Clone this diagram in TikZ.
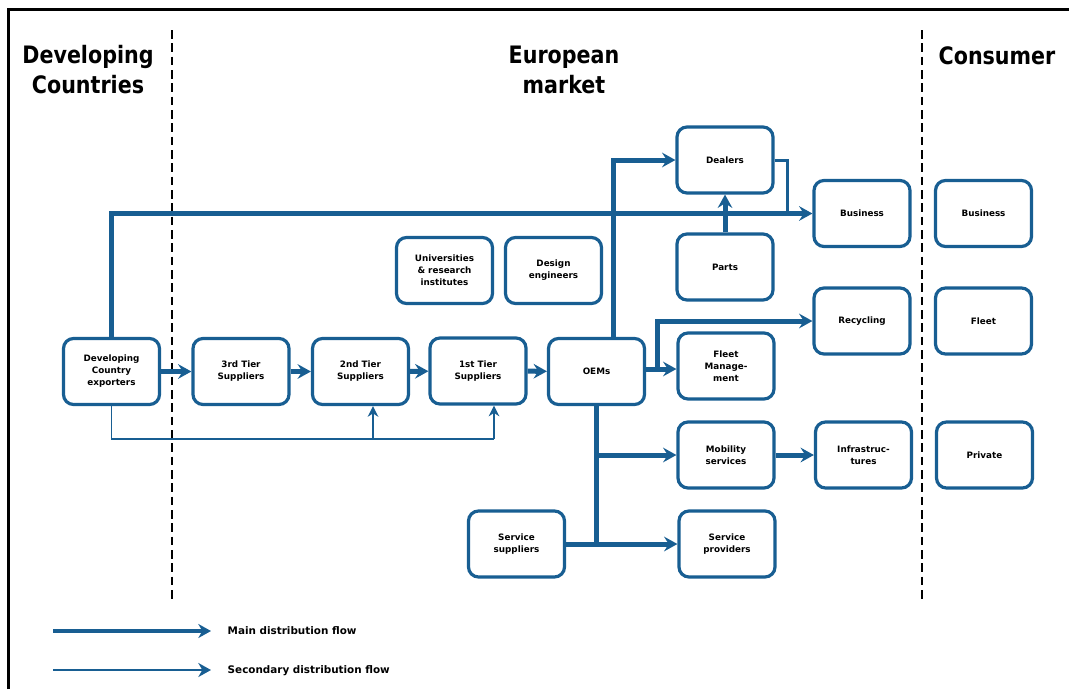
\documentclass[tikz,border=0pt]{standalone}
\usepackage{fontspec}
\setmainfont{DejaVu Sans}
\newfontfamily\headfont[FakeStretch=0.86]{DejaVu Sans}
\usetikzlibrary{arrows.meta}
\definecolor{flow}{RGB}{24,94,146}
\tikzset{
  box/.style={draw=flow, line width=2.4pt, rounded corners=7.5pt, fill=white,
    minimum width=72pt, minimum height=49.5pt, align=center, text=black,
    font=\bfseries\fontsize{6.6}{9}\selectfont, inner sep=2pt},
  head/.style={align=center, text=black, font=\headfont\bfseries\fontsize{18}{22.5}\selectfont},
  main/.style={draw=flow, line width=3.75pt, -{Stealth[length=10pt,width=11pt,inset=3.5pt]}},
  mainline/.style={draw=flow, line width=3.75pt},
  mid/.style={draw=flow, line width=2.25pt},
  sec/.style={draw=flow, line width=1.3pt},
  secarrow/.style={draw=flow, line width=1.3pt, -{Stealth[length=8pt,width=8pt,inset=2.5pt]}},
  legmain/.style={draw=flow, line width=3pt, -{Stealth[length=9.5pt,width=10.5pt,inset=3pt]}},
  legsec/.style={draw=flow, line width=2pt, -{Stealth[length=9.5pt,width=10.5pt,inset=3pt]}},
  divider/.style={draw=black, line width=1.9pt, dash pattern=on 6.5pt off 3.5pt},
  legtext/.style={anchor=west, text=black, font=\bfseries\fontsize{7.8}{9}\selectfont},
}
\begin{document}
\begin{tikzpicture}[x=0.75pt, y=-0.75pt]
\useasboundingbox (0,0) rectangle (1069,689);
% frame
\coordinate (fbl) at (8,689);
\coordinate (ftl) at (8,9);
\coordinate (ftr) at (1069,9);
\draw[line width=2.25pt, black] (fbl) -- (ftl) -- (ftr);
% dividers
\coordinate (d1t) at (172,30);
\coordinate (d1b) at (172,600);
\coordinate (d2t) at (922,30);
\coordinate (d2b) at (922,600);
\draw[divider] (d1t) -- (d1b);
\draw[divider] (d2t) -- (d2b);
% headings
\node[head] (hdev) at (88,70) {Developing\\Countries};
\node[head] (heur) at (564,70) {European\\market};
\node[head] (hcon) at (997,56) {Consumer};
% boxes
\node[box] (exp) at (111.5,371.5) {Developing\\Country\\exporters};
\node[box] (t3) at (241,371.5) {3rd Tier\\Suppliers};
\node[box] (t2) at (360.5,371.5) {2nd Tier\\Suppliers};
\node[box] (t1) at (478,371) {1st Tier\\Suppliers};
\node[box] (oem) at (596.5,371.5) {OEMs};
\node[box] (fleetm) at (726,366) {Fleet\\Manage-\\ment};
\node[box] (mob) at (726,455) {Mobility\\services};
\node[box] (sprov) at (727,544) {Service\\providers};
\node[box] (ssup) at (516.5,544) {Service\\suppliers};
\node[box] (deal) at (725,160) {Dealers};
\node[box] (parts) at (725,267) {Parts};
\node[box] (univ) at (444.5,270.5) {Universities\\\& research\\institutes};
\node[box] (design) at (553.5,270.5) {Design\\engineers};
\node[box] (bus) at (862,213.5) {Business};
\node[box] (recyc) at (862,321) {Recycling};
\node[box] (infra) at (863.5,455) {Infrastruc-\\tures};
\node[box] (cbus) at (983.5,213.5) {Business};
\node[box] (cfleet) at (983.5,321) {Fleet};
\node[box] (cpriv) at (984.5,455) {Private};
% main chain
\draw[main] (exp) -- (t3);
\draw[main] (t3) -- (t2);
\draw[main] (t2) -- (t1);
\draw[main] (t1) -- (oem);
% exporters to business
\draw[main] (exp.north) -- (exp.north |- bus) -- (bus);
% OEMs to dealers
\coordinate (ot) at (613,0);
\draw[main] (oem.north -| ot) -- (ot |- deal) -- (deal);
% dealers to business line
\coordinate (dj) at (787,213.5);
\draw[mid] (deal.east) -- (deal.east -| dj) -- (dj);
% parts to dealers
\draw[main] (parts) -- (deal);
% OEMs to fleet management and recycling
\coordinate (fj) at (657,369);
\draw[main] (oem.east |- fj) -- (fleetm.west |- fj);
\draw[main] ([yshift=1.5pt]fj) -- (fj |- recyc) -- (recyc);
% OEMs downwards
\draw[mainline] (oem.south) -- (oem.south |- sprov);
\draw[main] (oem.south |- mob) -- (mob);
\draw[main] (ssup) -- (sprov);
\draw[main] (mob) -- (infra);
% secondary flow
\coordinate (s1) at (494,439);
\coordinate (s2) at (373,439);
\draw[sec] (exp.south) |- (s1);
\draw[secarrow] (s1) -- (s1 |- t1.south);
\draw[secarrow] (s2) -- (s2 |- t2.south);
% legend
\coordinate (l1a) at (53,631);
\coordinate (l1b) at (211,631);
\coordinate (l2a) at (53,670);
\coordinate (l2b) at (211,670);
\draw[legmain] (l1a) -- (l1b);
\draw[legsec] (l2a) -- (l2b);
\node[legtext] (lt1) at (223,631) {Main distribution flow};
\node[legtext] (lt2) at (223,671) {Secondary distribution flow};
\end{tikzpicture}
\end{document}
